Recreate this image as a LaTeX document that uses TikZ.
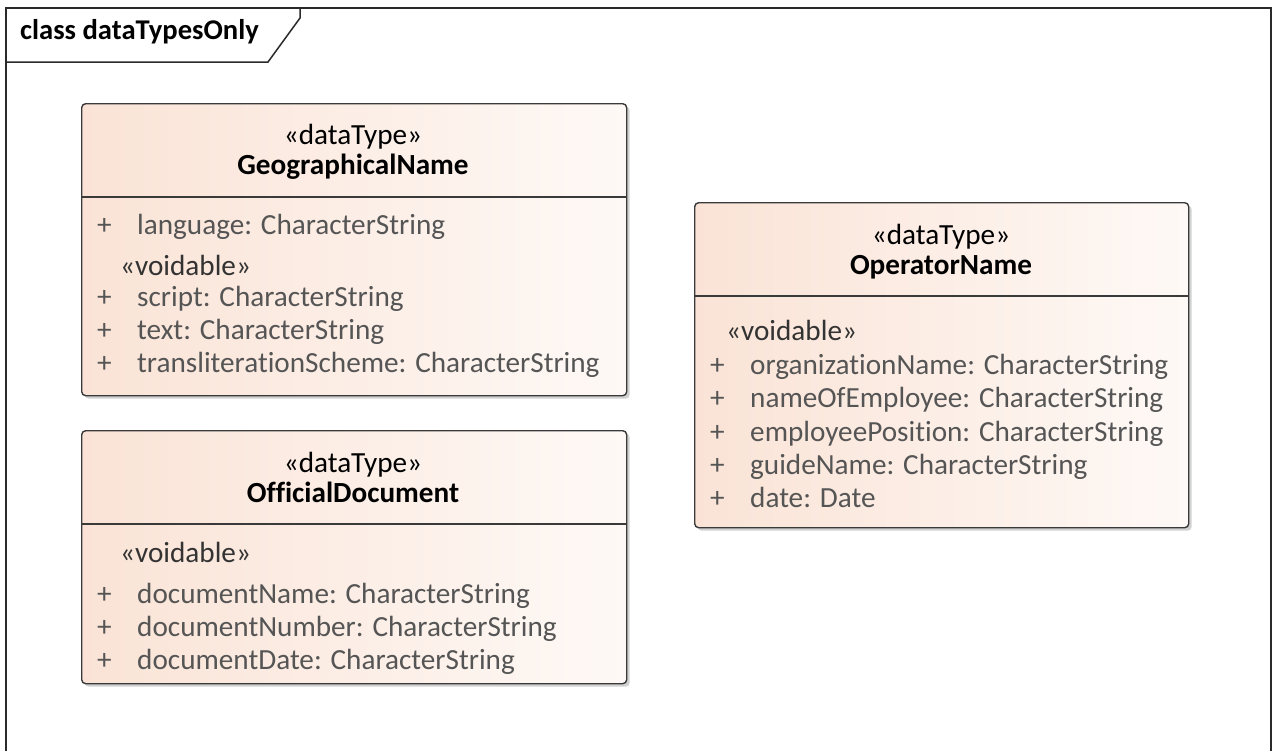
\documentclass[tikz,border=0pt]{standalone}
\usepackage{fontspec}
\setmainfont{Carlito}[Ligatures={NoCommon}]
\usetikzlibrary{shadows}
\definecolor{frameC}{HTML}{2A2A2A}
\definecolor{boxC}{HTML}{3A3A3A}
\definecolor{fillL}{HTML}{FAE3D6}
\definecolor{fillR}{HTML}{FEF9F6}
\definecolor{attrC}{HTML}{555555}
\definecolor{voidC}{HTML}{333333}
\tikzset{
  frameline/.style={draw=frameC, line width=1.5pt},
  classbox/.style={draw=boxC, line width=1.4pt, rounded corners=4pt,
    left color=fillL, right color=fillR,
    drop shadow={shadow xshift=3pt, shadow yshift=-3pt, opacity=0.18, fill=black},
    anchor=north west, inner sep=0pt},
  divider/.style={draw=boxC, line width=1.3pt},
  basefont/.style={font=\fontsize{29.2}{34}\selectfont, inner sep=0pt, text height=1.2em, text depth=0em},
  stereo/.style={basefont, text=black},
  cname/.style={basefont, font=\fontsize{29.2}{34}\selectfont\bfseries, text=black},
  voidtag/.style={basefont, text=voidC, anchor=west},
  vis/.style={basefont, text=attrC, anchor=west},
  attr/.style={basefont, text=attrC, anchor=west},
  titletext/.style={font=\fontsize{28.6}{34}\selectfont\bfseries, text=black, inner sep=0pt, anchor=west, text height=1.2em, text depth=0em}
}
\begin{document}
\begin{tikzpicture}[x=1pt, y=-1pt]
\useasboundingbox (0,0) rectangle (1277,750);
\fill[white] (0,0) rectangle (1277,750);
% frame
\draw[frameline] (6,770) -- (6,8) -- (1271,8) -- (1271,770);
\draw[frameline] (6,62) -- (268,62) -- (300,18) -- (300,8);
\node[titletext] (title) at (20,33) {class dataTypesOnly};

% GeographicalName
\node[classbox, minimum width=545pt, minimum height=292pt] (geo) at (81,103) {};
\draw[divider] (geo.west |- 0,197) -- (geo.east |- 0,197);
\node[stereo] (geoS) at (353,138) {«dataType»};
\node[cname] (geoN) at (353,168) {GeographicalName};
\node[vis] (geoP1) at (97,228) {+};
\node[attr] (geoA1) at (137,228) {language: CharacterString};
\node[voidtag] (geoV) at (120,269) {«voidable»};
\node[vis] (geoP2) at (97,300) {+};
\node[attr] (geoA2) at (137,300) {script: CharacterString};
\node[vis] (geoP3) at (97,333) {+};
\node[attr] (geoA3) at (137,333) {text: CharacterString};
\node[vis] (geoP4) at (97,366) {+};
\node[attr] (geoA4) at (137,366) {transliterationScheme: CharacterString};

% OfficialDocument
\node[classbox, minimum width=545pt, minimum height=253pt] (doc) at (81,430) {};
\draw[divider] (doc.west |- 0,524) -- (doc.east |- 0,524);
\node[stereo] (docS) at (353,466) {«dataType»};
\node[cname] (docN) at (353,496) {OfficialDocument};
\node[voidtag] (docV) at (120,556) {«voidable»};
\node[vis] (docP1) at (97,597) {+};
\node[attr] (docA1) at (137,597) {documentName: CharacterString};
\node[vis] (docP2) at (97,630) {+};
\node[attr] (docA2) at (137,630) {documentNumber: CharacterString};
\node[vis] (docP3) at (97,663) {+};
\node[attr] (docA3) at (137,663) {documentDate: CharacterString};

% OperatorName
\node[classbox, minimum width=494pt, minimum height=325pt] (op) at (694,202) {};
\draw[divider] (op.west |- 0,296) -- (op.east |- 0,296);
\node[stereo] (opS) at (941,238) {«dataType»};
\node[cname] (opN) at (941,268) {OperatorName};
\node[voidtag] (opV) at (726,334) {«voidable»};
\node[vis] (opP1) at (710,368) {+};
\node[attr] (opA1) at (750,368) {organizationName: CharacterString};
\node[vis] (opP2) at (710,401) {+};
\node[attr] (opA2) at (750,401) {nameOfEmployee: CharacterString};
\node[vis] (opP3) at (710,435) {+};
\node[attr] (opA3) at (750,435) {employeePosition: CharacterString};
\node[vis] (opP4) at (710,468) {+};
\node[attr] (opA4) at (750,468) {guideName: CharacterString};
\node[vis] (opP5) at (710,501) {+};
\node[attr] (opA5) at (750,501) {date: Date};
\end{tikzpicture}
\end{document}
